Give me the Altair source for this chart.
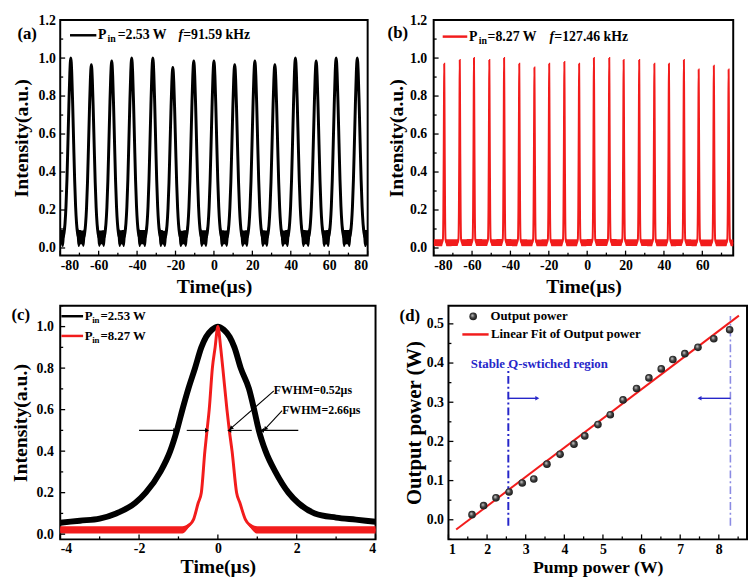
import altair as alt
import pandas as pd

FONT = "Liberation Serif"
RED = "#f21c1c"
BLUE = "#2626c9"
BLUE2 = "#8b8be3"

# ---------------- panel (a): pulse train, P_in = 2.53 W ----------------
a_peak_t = [-74.5, -63.8, -53.2, -42.8, -31.8, -21.4, -10.5, 0.0, 10.8, 21.3, 31.7, 42.4, 53.2, 63.6, 74.6]
a_peak_h = [1.0, 0.965, 0.985, 1.0, 1.0, 0.95, 0.985, 0.985, 0.965, 0.985, 0.965, 1.0, 0.985, 1.0, 1.0]
a_off = [-5.1, -4.2, -3.5, -3.0, -2.5, -2.0, -1.5, -1.0, -0.5, 0.0, 0.5, 1.0, 1.5, 2.0, 2.5, 3.0, 3.5, 4.2, 5.1]
a_mid = [0.055, 0.055, 0.08, 0.13, 0.22, 0.36, 0.55, 0.75, 0.92, 1.0, 0.92, 0.75, 0.55, 0.36, 0.22, 0.13, 0.08, 0.055, 0.055]
a_lo = [0.02, 0.005, 0.02, 0.09, 0.22, 0.36, 0.55, 0.75, 0.92, 1.0, 0.92, 0.75, 0.55, 0.36, 0.22, 0.09, 0.02, 0.005, 0.02]
a_hi = [0.095, 0.095, 0.12, 0.16, 0.22, 0.36, 0.55, 0.75, 0.92, 1.0, 0.92, 0.75, 0.55, 0.36, 0.22, 0.16, 0.12, 0.095, 0.095]
a_edge = [(-80.0, 0.065, 0.03, 0.1), (80.0, 0.065, 0.03, 0.1)]

# ---------------- panel (b): pulse train, P_in = 8.27 W ----------------
b_peak_t = [-74.5, -66.4, -59.0, -51.0, -43.3, -35.4, -27.5, -19.8, -11.9, -4.2,
            3.5, 11.5, 19.0, 27.1, 35.0, 42.6, 50.4, 58.1, 66.0, 73.7]
b_peak_h = [0.97, 0.99, 1.0, 0.99, 1.0, 0.97, 0.95, 0.97, 0.98, 0.97,
            1.0, 1.0, 0.99, 0.99, 0.97, 0.97, 0.99, 0.94, 0.96, 0.94]
b_off = [-3.6, -1.2, -0.7, -0.45, -0.27, -0.13, 0.0, 0.13, 0.27, 0.45, 0.7, 1.2, 3.6]
b_mid = [0.028, 0.028, 0.045, 0.2, 0.5, 0.8, 1.0, 0.8, 0.5, 0.2, 0.045, 0.028, 0.028]
b_lo = [0.01, 0.01, 0.03, 0.2, 0.5, 0.8, 1.0, 0.8, 0.5, 0.2, 0.03, 0.01, 0.01]
b_hi = [0.047, 0.047, 0.06, 0.2, 0.5, 0.8, 1.0, 0.8, 0.5, 0.2, 0.06, 0.047, 0.047]
b_edge = [(-80.0, 0.028, 0.01, 0.047), (80.0, 0.028, 0.01, 0.047)]

# ---------------- panel (c): single pulse profiles ----------------
c_black_t = [-4.0, -3.5, -3.0, -2.58, -2.1, -1.83, -1.46, -1.21, -1.04, -0.9, -0.75, -0.58, -0.42, -0.3, -0.15,
             0.0, 0.15, 0.3, 0.42, 0.58, 0.79, 0.92, 1.04, 1.21, 1.46, 1.79, 2.04, 2.46, 3.0, 3.5, 4.0]
c_black_v = [0.055, 0.065, 0.075, 0.1, 0.15, 0.2, 0.3, 0.4, 0.5, 0.6, 0.7, 0.8, 0.9, 0.95, 0.985,
             1.0, 0.985, 0.95, 0.9, 0.8, 0.7, 0.6, 0.5, 0.4, 0.3, 0.2, 0.15, 0.1, 0.08, 0.07, 0.06]
c_red_t = [-4.0, -0.9, -0.75, -0.62, -0.5, -0.42, -0.33, -0.275, -0.22, -0.14, -0.07, 0.0,
           0.07, 0.125, 0.23, 0.29, 0.36, 0.475, 0.56, 0.7, 0.83, 1.0, 4.0]
c_red_v = [0.02, 0.02, 0.04, 0.07, 0.15, 0.2, 0.4, 0.5, 0.6, 0.8, 0.9, 1.0,
           0.9, 0.8, 0.6, 0.5, 0.4, 0.2, 0.15, 0.07, 0.04, 0.02, 0.02]
c_red_lo = [0.003, 0.003, 0.03, 0.07, 0.15, 0.2, 0.4, 0.5, 0.6, 0.8, 0.9, 1.0,
            0.9, 0.8, 0.6, 0.5, 0.4, 0.2, 0.15, 0.07, 0.03, 0.003, 0.003]
c_red_hi = [0.038, 0.038, 0.05, 0.07, 0.15, 0.2, 0.4, 0.5, 0.6, 0.8, 0.9, 1.0,
            0.9, 0.8, 0.6, 0.5, 0.4, 0.2, 0.15, 0.07, 0.05, 0.038, 0.038]
c_arr_x1 = [-2.0, -0.79, 0.86, 2.04]
c_arr_x2 = [-1.08, -0.275, 0.29, 1.12]
c_arr_y = [0.5, 0.5, 0.5, 0.5]
c_arr_shape = ["triangle-right", "triangle-right", "triangle-left", "triangle-left"]
c_lead_x1 = [1.42, 1.63]
c_lead_y1 = [0.69, 0.595]
c_lead_x2 = [0.33, 1.2]
c_lead_y2 = [0.51, 0.507]
c_lead_ang = [229, 223]

# ---------------- panel (d): output vs pump power ----------------
d_pump = [1.61, 1.91, 2.23, 2.57, 2.91, 3.21, 3.55, 3.89, 4.25, 4.53, 4.87,
          5.19, 5.52, 5.87, 6.19, 6.51, 6.81, 7.12, 7.46, 7.87, 8.28]
d_out = [0.013, 0.036, 0.056, 0.071, 0.094, 0.104, 0.142, 0.167, 0.193, 0.214, 0.243,
         0.268, 0.306, 0.335, 0.362, 0.385, 0.409, 0.424, 0.44, 0.462, 0.485]
d_fit_x = [1.2, 8.52]
d_fit_y = [-0.025, 0.521]
d_region_x = [2.55, 8.3]
d_region_y0 = [-0.015, -0.015]
d_region_y1 = [0.39, 0.52]
d_arrow_x1 = [2.55, 8.3]
d_arrow_x2 = [3.3, 7.5]
d_arrow_y = [0.31, 0.31]


def build_train(peaks_t, peaks_h, off, mid, lo, hi, edge):
    rows = [edge[0]]
    for t0, h in zip(peaks_t, peaks_h):
        for o, m, l, u in zip(off, mid, lo, hi):
            rows.append((t0 + o, m * h, l * h, u * h))
    rows.append(edge[1])
    df = pd.DataFrame(rows, columns=["t", "v", "lo", "hi"])
    df["i"] = range(len(df))
    return df


class P:
    """Scales and axes shared by every layer of one panel."""
    def __init__(self, xdom, ydom, xvals, yvals, xtitle, ytitle, w, h,
                 ytp=7, ylp=5, xtp=4, xlp=3, xts=20, yts=20):
        self.xs = alt.Scale(domain=xdom, nice=False, zero=False)
        self.ys = alt.Scale(domain=ydom, nice=False, zero=False)
        self.ax = alt.Axis(values=xvals, labelExpr="datum.value + ''", title=xtitle,
                           labelPadding=xlp, titlePadding=xtp, titleFontSize=xts)
        self.ay = alt.Axis(values=yvals, labelExpr="format(datum.value, '.1f')", title=ytitle,
                           labelPadding=ylp, titlePadding=ytp, titleFontSize=yts)
        self.w, self.h = w, h

    def X(self, f):
        return alt.X(f, type="quantitative", scale=self.xs, axis=self.ax)

    def Y(self, f):
        return alt.Y(f, type="quantitative", scale=self.ys, axis=self.ay)


def tick_layers(p, xmaj, xmin, ymaj, ymin):
    out = []
    for vals, ln in ((ymaj, 5), (ymin, 3)):
        out.append(alt.Chart(pd.DataFrame({"v": vals})).mark_rule(color="black", strokeWidth=1.3).encode(
            y=p.Y("v"), x=alt.value(0), x2=alt.value(ln)))
    for vals, ln in ((xmaj, 5), (xmin, 3)):
        out.append(alt.Chart(pd.DataFrame({"v": vals})).mark_rule(color="black", strokeWidth=1.3).encode(
            x=p.X("v"), y=alt.value(p.h), y2=alt.value(p.h - ln)))
    return out


def text_layer(p, df, size=13, color="black", italic=False, dy=0, align="left"):
    return alt.Chart(df).mark_text(font=FONT, fontWeight="bold", fontSize=size, color=color,
                                   align=align, baseline="middle", dy=dy,
                                   fontStyle="italic" if italic else "normal").encode(
        x=p.X("x"), y=p.Y("y"), text="s:N")


def T(x, y, s):
    return pd.DataFrame({"x": [x], "y": [y], "s": [s]})


def seg(x1, x2, y1, y2=None):
    return pd.DataFrame({"x": [x1], "x2": [x2], "y": [y1], "y2": [y1 if y2 is None else y2]})


def rule_layer(p, df, color="black", width=1.2, dash=None):
    kw = dict(color=color, strokeWidth=width)
    if dash:
        kw["strokeDash"] = dash
    return alt.Chart(df).mark_rule(**kw).encode(x=p.X("x"), x2="x2:Q", y=p.Y("y"), y2="y2:Q")


def train_panel(df, color, lw, w, h, xmax, xvals, xminor, ytp, ylp,
                label, legend_y, leg_line, p_x, in_x, eq_x, eq_s, f_x, f_eq_x, f_s):
    p = P([-80, xmax], [-0.04, 1.2], xvals, [0, 0.2, 0.4, 0.6, 0.8, 1.0, 1.2],
          "Time(µs)", "Intensity(a.u.)", w, h, ytp=ytp, ylp=ylp)
    base = alt.Chart(df)
    band = base.mark_area(color=color, opacity=1, clip=True, interpolate="monotone").encode(
        x=p.X("t"), y=p.Y("lo"), y2="hi:Q")
    line = base.mark_line(color=color, strokeWidth=lw, clip=True, interpolate="monotone").encode(
        x=p.X("t"), y=p.Y("v"), order="i:Q")
    layers = [band, line]
    layers += tick_layers(p, xvals, xminor,
                          [0, 0.2, 0.4, 0.6, 0.8, 1.0, 1.2], [0.1, 0.3, 0.5, 0.7, 0.9, 1.1])
    layers.append(rule_layer(p, seg(leg_line[0], leg_line[1], legend_y), color=color, width=2.5))
    layers.append(text_layer(p, T(p_x, legend_y, "P"), size=14))
    layers.append(text_layer(p, T(in_x, legend_y, "in"), size=10, dy=4))
    layers.append(text_layer(p, T(eq_x, legend_y, eq_s), size=14))
    layers.append(text_layer(p, T(f_x, legend_y, "f"), size=14, italic=True))
    layers.append(text_layer(p, T(f_eq_x, legend_y, f_s), size=14))
    layers.append(text_layer(p, T(label[0], label[1], label[2]), size=17, align="center"))
    return alt.layer(*layers).properties(width=w, height=h)


dfa = build_train(a_peak_t, a_peak_h, a_off, a_mid, a_lo, a_hi, a_edge)
dfb = build_train(b_peak_t, b_peak_h, b_off, b_mid, b_lo, b_hi, b_edge)

panel_a = train_panel(dfa, "black", 3, 312, 239, 80, list(range(-80, 81, 20)), list(range(-70, 80, 20)),
                      7, 5, (-97.2, 1.128, "(a)"), 1.12, (-74.9, -61.2),
                      -60.4, -55.4, -50.1, "=2.53 W", -18.5, -16.0, "=91.59 kHz")
panel_b = train_panel(dfb, RED, 2, 304, 239, 76.1, list(range(-80, 61, 20)), list(range(-70, 76, 20)),
                      3, 7, (-98.7, 1.13, "(b)"), 1.113, (-75.3, -62.5),
                      -61.6, -56.5, -51.9, "=8.27 W", -19.6, -17.1, "=127.46 kHz")

# ---------------- panel (c) ----------------
pc = P([-4, 4], [-0.025, 1.1], [-4, -2, 0, 2, 4], [0, 0.2, 0.4, 0.6, 0.8, 1.0],
       "Time(µs)", "Intensity(a.u.)", 320, 237, ytp=5.5, ylp=7, xtp=2, xlp=2)
df_cb = pd.DataFrame({"t": c_black_t, "v": c_black_v})
df_cr = pd.DataFrame({"t": c_red_t, "v": c_red_v, "lo": c_red_lo, "hi": c_red_hi})
c_layers = [
    alt.Chart(df_cb).mark_line(color="black", strokeWidth=6, interpolate="monotone").encode(
        x=pc.X("t"), y=pc.Y("v")),
    alt.Chart(df_cr).mark_area(color=RED, interpolate="monotone").encode(
        x=pc.X("t"), y=pc.Y("lo"), y2="hi:Q"),
    alt.Chart(df_cr).mark_line(color=RED, strokeWidth=3, interpolate="monotone").encode(
        x=pc.X("t"), y=pc.Y("v")),
]
c_layers += tick_layers(pc, [-4, -2, 0, 2, 4], [-3, -1, 1, 3],
                        [0, 0.2, 0.4, 0.6, 0.8, 1.0], [0.1, 0.3, 0.5, 0.7, 0.9, 1.1])
df_arr = pd.DataFrame({"x": c_arr_x1, "x2": c_arr_x2, "y": c_arr_y, "y2": c_arr_y, "sh": c_arr_shape})
c_layers.append(rule_layer(pc, df_arr, width=1.1))
c_layers.append(alt.Chart(df_arr).mark_point(filled=True, color="black", size=22, opacity=1).encode(
    x=pc.X("x2"), y=pc.Y("y"), shape=alt.Shape("sh:N", scale=None)))
df_lead = pd.DataFrame({"x": c_lead_x1, "x2": c_lead_x2, "y": c_lead_y1, "y2": c_lead_y2, "ang": c_lead_ang})
c_layers.append(rule_layer(pc, df_lead, width=1.1))
c_layers.append(alt.Chart(df_lead).mark_point(filled=True, color="black", size=22, opacity=1,
                                              shape="triangle-up").encode(
    x=pc.X("x2"), y=pc.Y("y2"), angle=alt.Angle("ang:Q", scale=None)))
c_layers.append(text_layer(pc, T(1.42, 0.696, "FWHM=0.52µs"), size=12))
c_layers.append(text_layer(pc, T(1.63, 0.598, "FWHM=2.66µs"), size=12))
for yy, col, s in ((1.05, "black", "=2.53 W"), (0.955, RED, "=8.27 W")):
    c_layers.append(rule_layer(pc, seg(-3.97, -3.42, yy), color=col, width=2.5))
    c_layers.append(text_layer(pc, T(-3.375, yy, "P"), size=13))
    c_layers.append(text_layer(pc, T(-3.19, yy, "in"), size=9, dy=4))
    c_layers.append(text_layer(pc, T(-2.98, yy, s), size=13))
c_layers.append(text_layer(pc, T(-5.0, 1.055, "(c)"), size=17, align="center"))
panel_c = alt.layer(*c_layers).properties(width=320, height=237)

# ---------------- panel (d) ----------------
pd_ = P([1, 8.73], [-0.05, 0.546], list(range(1, 9)), [0, 0.1, 0.2, 0.3, 0.4, 0.5],
        "Pump power (W)", "Output power (W)", 303, 237, ytp=2.3, ylp=5, xtp=3, xlp=3, xts=18, yts=21)
df_d = pd.DataFrame({"x": d_pump, "y": d_out})
df_fit = pd.DataFrame({"x": d_fit_x, "y": d_fit_y})
sphere = alt.RadialGradient(gradient="radial",
                            stops=[alt.GradientStop(offset=0, color="#d8d8d8"),
                                   alt.GradientStop(offset=0.45, color="#444444"),
                                   alt.GradientStop(offset=1, color="#0a0a0a")],
                            x1=0.38, y1=0.35, r1=0, x2=0.5, y2=0.5, r2=0.6)
d_layers = [
    alt.Chart(df_fit).mark_line(color=RED, strokeWidth=2, clip=True).encode(x=pd_.X("x"), y=pd_.Y("y")),
]
d_layers += tick_layers(pd_, list(range(1, 9)), [1.5 + k for k in range(8)],
                        [0, 0.1, 0.2, 0.3, 0.4, 0.5], [-0.05, 0.05, 0.15, 0.25, 0.35, 0.45])
df_reg = pd.DataFrame({"x": d_region_x, "x2": d_region_x, "y": d_region_y0, "y2": d_region_y1})
d_layers.append(rule_layer(pd_, df_reg.iloc[[0]], color=BLUE, width=2, dash=[8, 3, 2, 3]))
d_layers.append(rule_layer(pd_, df_reg.iloc[[1]], color=BLUE2, width=1.6, dash=[8, 3, 2, 3]))
df_darr = pd.DataFrame({"x": d_arrow_x1, "x2": d_arrow_x2, "y": d_arrow_y, "y2": d_arrow_y,
                        "sh": ["triangle-right", "triangle-left"]})
d_layers.append(rule_layer(pd_, df_darr, color=BLUE, width=1.4))
d_layers.append(alt.Chart(df_darr).mark_point(filled=True, color=BLUE, size=22, opacity=1).encode(
    x=pd_.X("x2"), y=pd_.Y("y"), shape=alt.Shape("sh:N", scale=None)))
d_layers.append(alt.Chart(df_d).mark_circle(size=60, opacity=1, color=sphere).encode(
    x=pd_.X("x"), y=pd_.Y("y")))
d_layers.append(alt.Chart(T(1.64, 0.519, "")).mark_circle(size=60, opacity=1, color=sphere).encode(
    x=pd_.X("x"), y=pd_.Y("y")))
d_layers.append(text_layer(pd_, T(2.09, 0.519, "Output power"), size=13))
d_layers.append(rule_layer(pd_, seg(1.36, 2.04, 0.473), color=RED, width=2.5))
d_layers.append(text_layer(pd_, T(2.1, 0.473, "Linear Fit of Output power"), size=13))
d_layers.append(text_layer(pd_, T(1.58, 0.397, "Stable Q-swtiched region"), size=13, color=BLUE))
d_layers.append(text_layer(pd_, T(0.0, 0.519, "(d)"), size=17, align="center"))
panel_d = alt.layer(*d_layers).properties(width=303, height=237)

row1 = alt.hconcat(panel_a, panel_b, spacing=16)
row2 = alt.hconcat(panel_c, panel_d, spacing=10)
chart = alt.vconcat(row1, row2, spacing=7).configure_view(
    stroke="black", strokeWidth=2
).configure_axis(
    labelFont=FONT, titleFont=FONT, labelFontWeight="bold", titleFontWeight="bold",
    labelFontSize=14, titleFontSize=20, ticks=False, domain=False, grid=False,
    labelColor="black", titleColor="black"
).properties(padding={"left": 2, "top": 0, "right": 0, "bottom": 0})

chart.save("out.html", embed_options={"renderer": "svg", "actions": False})
